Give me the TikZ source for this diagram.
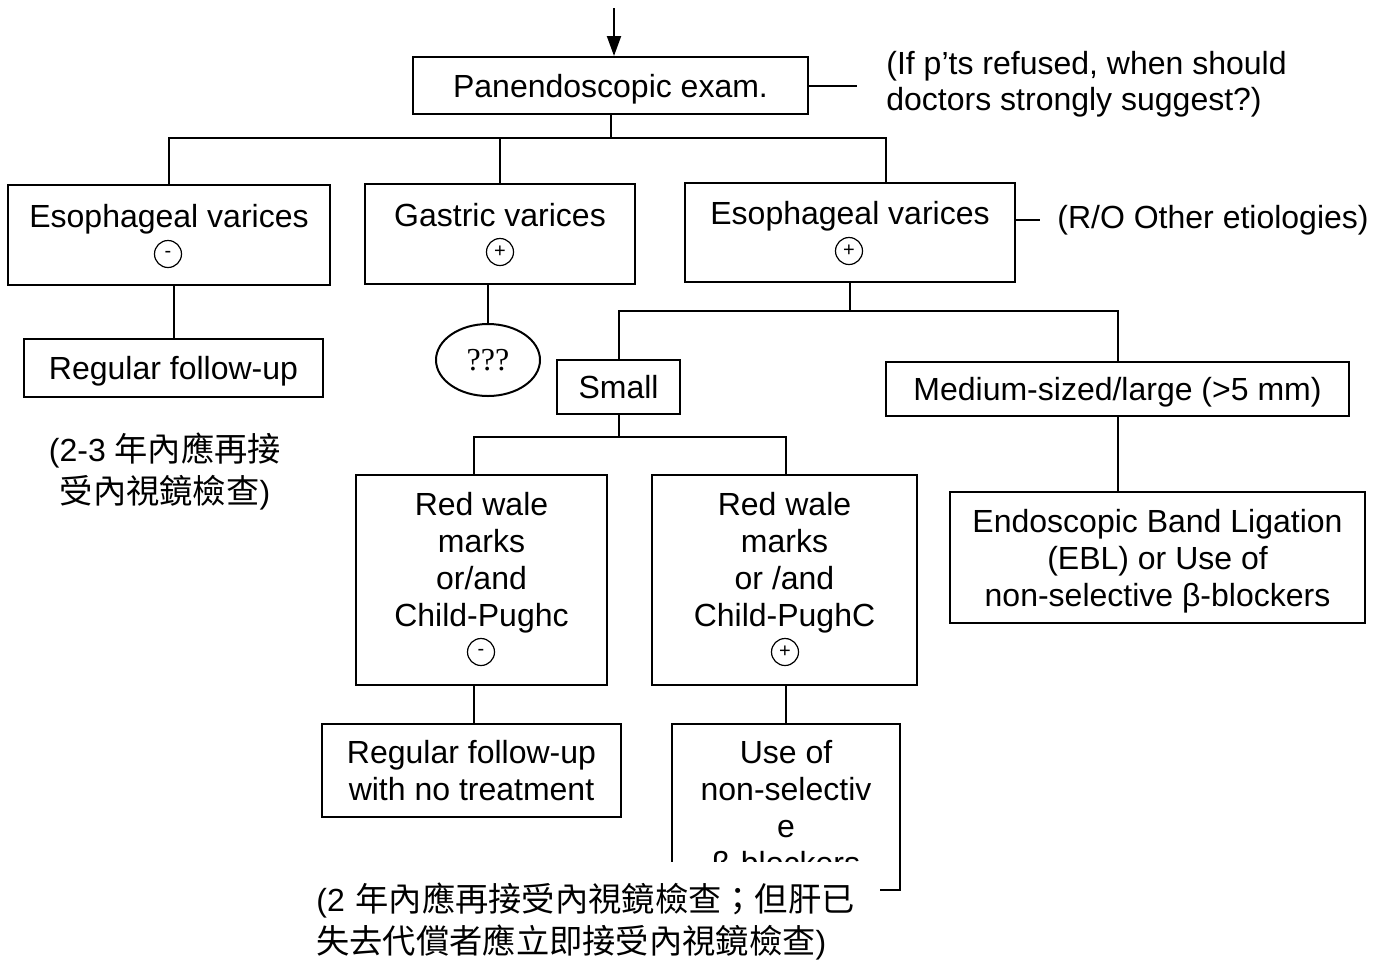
\documentclass[tikz,border=0pt]{standalone}
\usepackage{fontspec}
\setmainfont{Liberation Sans}
\newfontfamily\cjk[Scale=1.04]{Noto Sans CJK TC}
\newfontfamily\serifq{Liberation Serif}
\newcommand{\zh}[1]{{\cjk #1}}
\usepackage{tikz}
\usetikzlibrary{shapes.geometric, arrows.meta}
\tikzstyle{box} = [rectangle, draw=black, line width=1pt, inner sep=0pt, align=center, text depth=0pt, font=\fontsize{16}{18.5}\selectfont]
\tikzstyle{sign} = [circle, draw=black, line width=0.6pt, minimum size=13.5pt, inner sep=0pt, font=\fontsize{10}{10}\selectfont]
\tikzstyle{oval} = [ellipse, draw=black, line width=1pt, minimum width=52pt, minimum height=36pt, inner sep=0pt, font=\serifq\fontsize{16}{18}\selectfont]
\tikzstyle{note} = [inner sep=0pt, font=\fontsize{16}{18}\selectfont]
\tikzstyle{link} = [line width=1pt]
\tikzstyle{arrow} = [line width=1pt,-{Triangle[length=10pt,width=7pt]}]

\begin{document}
\begin{tikzpicture}[x=0.5pt, y=-0.5pt]
		\useasboundingbox (0,0) rectangle (1386,960);
		
		\coordinate (start) at (614,8);
		\node (panendo) [box, minimum width=197.5pt, minimum height=28.5pt] at (610.5,85.5) {Panendoscopic exam.};
		\node (pNote) [note, anchor=west, inner xsep=14.5pt, align=left] at (857,84) {(If p’ts refused, when should\\doctors strongly suggest?)};
		\node (esoNeg) [box, minimum width=161pt, minimum height=50pt, font=\fontsize{16}{19.5}\selectfont] at (169,235) {Esophageal varices\\\strut};
		\node (esoNegSign) [sign] at (168,254) {-};
		\node (gastric) [box, minimum width=135pt, minimum height=50pt, font=\fontsize{16}{19.5}\selectfont] at (500,234) {Gastric varices\\\strut};
		\node (gastricSign) [sign] at (500,252) {+};
		\node (esoPos) [box, minimum width=165pt, minimum height=49.5pt, font=\fontsize{16}{19.5}\selectfont] at (850,232.5) {Esophageal varices\\\strut};
		\node (esoPosSign) [sign] at (849,251) {+};
		\node (roNote) [note, anchor=west, inner xsep=8.5pt] at (1040,220) {(R/O Other etiologies)};
		\node (regLeft) [box, minimum width=149.5pt, minimum height=29pt] at (173.5,368) {Regular follow-up};
		\node (leftNote) [note, align=center, font=\fontsize{16}{21}\selectfont] at (165,471) {(2-3 \zh{年內應再接}\\\zh{受內視鏡檢查})};
		\node (qmark) [oval] at (488,360) {???};
		\node (small) [box, minimum width=61.5pt, minimum height=27pt] at (618.5,387) {Small};
		\node (medium) [box, minimum width=231.5pt, minimum height=27pt] at (1117.5,389) {Medium-sized/large (>5 mm)};
		\node (ebl) [box, minimum width=207.5pt, minimum height=65.5pt] at (1157.5,557.5) {Endoscopic Band Ligation\\(EBL) or Use of\\non-selective β-blockers};
		\node (redNeg) [box, minimum width=125.5pt, minimum height=105pt, text depth=2pt] at (481.5,580) {Red wale\\marks\\or/and\\Child-Pughc\\\strut};
		\node (redNegSign) [sign] at (481,652) {-};
		\node (redPos) [box, minimum width=132.5pt, minimum height=105pt, text depth=2pt] at (784.5,580) {Red wale\\marks\\or /and\\Child-PughC\\\strut};
		\node (redPosSign) [sign] at (785,652) {+};
		\node (regNo) [box, minimum width=149.5pt, minimum height=46.5pt] at (471.5,770.5) {Regular follow-up\\with no treatment};
		\node (useOf) [box, minimum width=114pt, minimum height=83pt] at (786,807) {Use of\\non-selectiv\\e\\β-blockers};
		\node (noteB) [note, fill=white, anchor=north west, inner xsep=4pt, inner ysep=10pt, text width=278pt, align=left, font=\fontsize{16}{21}\selectfont] at (308,862) {(2 \zh{年內應再接受內視鏡檢查；但肝已}\\\zh{失去代償者應立即接受內視鏡檢查})};
		
		\draw [arrow] (start) -- (start |- panendo.north);
		\draw [link] (panendo.east) -- (panendo.east -| pNote.west);
		\draw [link] (panendo.south) -- ++(0,23) -| (esoNeg.north);
		\draw [link] (panendo.south) -- ++(0,23) -| (gastric.north);
		\draw [link] (panendo.south) -- ++(0,23) -| ([xshift=18pt]esoPos.north);
		\draw [link] (esoPos.east |- roNote.west) -- (roNote.west);
		\draw [link] (regLeft.north |- esoNeg.south) -- (regLeft.north);
		\draw [link] (qmark.north |- gastric.south) -- (qmark.north);
		\draw [link] (esoPos.south) -- ++(0,28) -| (small.north);
		\draw [link] (esoPos.south) -- ++(0,28) -| (medium.north);
		\draw [link] (medium.south) -- (medium.south |- ebl.north);
		\draw [link] (small.south) -- ++(0,22) -| ([xshift=-3.75pt]redNeg.north);
		\draw [link] (small.south) -- ++(0,22) -| ([xshift=0.75pt]redPos.north);
		\draw [link] ([xshift=-3.75pt]redNeg.south) -- ([xshift=-3.75pt]redNeg.south |- regNo.north);
		\draw [link] ([xshift=0.75pt]redPos.south) -- ([xshift=0.75pt]redPos.south |- useOf.north);
	\end{tikzpicture}
\end{document}
